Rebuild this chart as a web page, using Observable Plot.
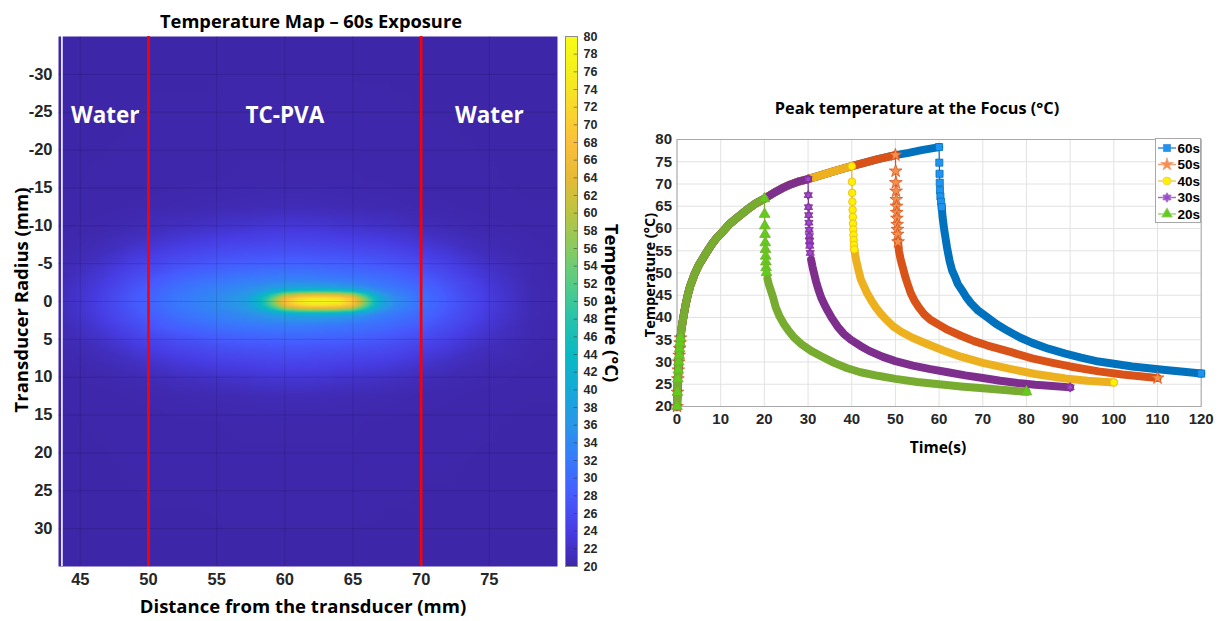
<!DOCTYPE html>
<html><head><meta charset="utf-8">
<script src="https://cdn.jsdelivr.net/npm/d3@7"></script>
<script src="https://cdn.jsdelivr.net/npm/@observablehq/plot@0.6"></script>
<style>
body{margin:0;background:#fff;}
#wrap{position:relative;width:1224px;height:621px;overflow:hidden;}
.abs{position:absolute;}
.lbl{position:absolute;font-family:"Open Sans",sans-serif;font-weight:700;color:#000;white-space:nowrap;transform:translate(-50%,-50%);}
</style></head><body><div id="wrap"></div>
<script>
// ---------- LEFT PANEL DATA (temperature map, symmetric in radius) ----------
const fieldX = [43.4, 46, 49, 52, 55, 57, 58, 59, 60, 61, 62, 63, 64, 65, 66, 67, 68, 70, 72, 75, 78, 80];
const fieldR = [0, 0.5, 1, 1.5, 2, 3, 4.5, 6, 8, 10, 12.5, 16, 36];
const fieldT = [
  [21.0,23.6,27.7,31.5,34.2,37.1,42.2,53.3,68.5,75.0,77.8,77.9,76.1,70.2,54.0,40.2,34.9,30.8,27.7,23.6,20.8,20.3],
  [21.0,23.6,27.7,31.5,34.2,36.8,41.5,51.5,65.1,71.0,73.6,73.6,71.9,66.7,52.0,39.5,34.7,30.8,27.7,23.6,20.8,20.3],
  [21.0,23.5,27.5,31.2,33.8,36.2,39.3,46.0,55.1,59.0,60.7,60.7,59.6,55.7,45.7,37.1,33.6,30.4,27.5,23.5,20.8,20.3],
  [21.0,23.4,27.2,30.8,33.2,35.0,36.5,39.1,42.5,43.9,44.5,44.4,43.6,41.7,37.6,34.0,32.3,29.9,27.2,23.4,20.8,20.3],
  [20.9,23.2,26.9,30.3,32.6,34.0,34.8,36.0,37.0,37.4,37.5,37.0,36.4,35.4,33.8,32.3,31.3,29.4,26.9,23.2,20.8,20.3],
  [20.7,22.8,26.0,29.1,31.0,31.9,32.2,32.6,32.8,32.8,32.6,32.2,31.9,31.5,31.0,30.5,29.9,28.1,26.0,22.8,20.6,20.3],
  [20.6,22.1,24.7,26.9,28.6,29.2,29.4,29.6,29.8,29.8,29.6,29.4,29.2,29.0,28.6,28.1,27.5,26.3,24.7,22.1,20.6,20.3],
  [20.45,21.3,23.4,25.2,26.5,27.0,27.1,27.25,27.4,27.4,27.25,27.1,27.0,26.75,26.5,26.2,25.8,24.6,23.4,21.3,20.4,20.25],
  [20.3,20.7,21.8,23.2,24.2,24.55,24.75,24.9,25,25,24.9,24.75,24.55,24.35,24.15,24,23.6,22.75,21.8,20.7,20.3,20.2],
  [20.2,20.35,20.75,21.5,22.15,22.5,22.75,22.9,23,23,22.9,22.75,22.5,22.35,22.15,22.0,21.75,21.2,20.75,20.35,20.2,20.1],
  [20.1,20.15,20.3,20.5,20.7,20.8,20.9,20.97,21,21,20.97,20.9,20.8,20.75,20.7,20.6,20.55,20.4,20.3,20.15,20.1,20.1],
  [20.05,20.1,20.15,20.2,20.25,20.3,20.3,20.3,20.3,20.3,20.3,20.3,20.3,20.3,20.25,20.25,20.2,20.15,20.15,20.1,20.05,20.05],
  [20,20,20,20,20,20,20,20,20,20,20,20,20,20,20,20,20,20,20,20,20,20]
];
const regionNames = ["Water", "TC-PVA", "Water"];
const regionBounds = [43.65, 50, 70, 80];
const interfaces = [50, 70];
const transducerFace = [43.65];
const xTicksL = [45, 50, 55, 60, 65, 70, 75];
const yTicksL = [-30, -25, -20, -15, -10, -5, 0, 5, 10, 15, 20, 25, 30];
const cbTicks = d3.range(20, 81, 2);
const parulaColors = ["#3e26a8","#473de4","#465bfe","#387afc","#2a96e7","#14aad7","#09b9c3","#27c3ab","#55cc86","#89cb61","#bbc441","#e6bb36","#fbbf3b","#f8d92c","#f4f01b","#f9fb15"];

// ---------- RIGHT PANEL DATA (peak temperature at focus) ----------
const heating = [[0,20],[0.1,23.2],[0.2,26.2],[0.3,28.2],[0.4,30],[0.5,31.5],[0.6,33],[0.7,34.3],[0.8,35.4],[1,37.3],[1.5,40.3],[2,43],[2.5,45.2],[3,47],[4,49.7],[5,51.8],[6,53.4],[7,55],[8,56.5],[9,57.8],[10,58.8],[12,61],[14,62.6],[16,64.2],[18,65.6],[20,66.7],[22,67.9],[24,69],[26,69.9],[28,70.6],[30,71.1],[33,72],[36,72.9],[40,74.0],[43,74.8],[46,75.6],[50,76.5],[53,77.0],[56,77.6],[60,78.3]];
const cool20 = [[0,66.7],[0.05,63.2],[0.1,60.6],[0.15,58.7],[0.2,56.8],[0.25,55.3],[0.3,53.8],[0.35,52.5],[0.4,51.2],[0.5,50.1],[0.7,48.7],[1,47.5],[1.5,46],[2,44.5],[2.6,42.3],[3.5,40.2],[4.5,38.5],[5.5,37.1],[6.8,35.5],[8.5,34],[10.7,32.5],[13,31.3],[16,29.8],[19,28.6],[22,27.7],[26,26.9],[30,26.2],[35,25.5],[40,25],[45,24.5],[50,24.1],[55,23.7],[60,23.3]];
const cool30 = [[0,71.1],[0.05,67.5],[0.1,64.8],[0.15,63],[0.2,61.3],[0.25,59.7],[0.3,58.3],[0.35,57.2],[0.4,56.1],[0.5,54.5],[0.7,53],[1,51.5],[1.4,49.8],[1.8,48.2],[2.4,46.2],[3,44.5],[3.7,43],[4.5,41.5],[5.5,39.8],[6.8,37.9],[8.2,36.3],[9.8,35],[12,33.6],[14,32.5],[17,31.2],[20,30.2],[24,29.2],[28,28.4],[32,27.7],[36,27],[40,26.4],[44,25.8],[48,25.3],[52,24.9],[56,24.6],[60,24.3]];
const cool40 = [[0,74],[0.05,70.5],[0.1,68],[0.15,66],[0.2,64.2],[0.25,62.6],[0.3,61.1],[0.35,59.8],[0.4,58.5],[0.45,57.4],[0.5,56.3],[0.6,55.3],[0.8,54],[1.1,52.5],[1.5,50.8],[2.1,48.5],[2.8,47],[3.5,45.5],[4.5,43.8],[5.5,42.3],[6.7,40.8],[8,39.4],[9.5,38],[11.3,36.8],[14,35.4],[17.4,34],[21,32.6],[25,31.2],[30,29.8],[36.5,28.4],[42,27.3],[48.9,26.3],[54,25.8],[60,25.4]];
const cool50 = [[0,76.5],[0.05,72.9],[0.1,70.3],[0.15,68.4],[0.2,66.5],[0.25,65],[0.3,63.6],[0.35,62.3],[0.4,60.9],[0.45,59.8],[0.5,58.7],[0.6,57],[0.8,55],[1.2,53],[1.7,51.2],[2.2,49.3],[2.8,47.5],[3.5,45.5],[4.4,43.7],[5.5,42.1],[6.6,40.7],[8,39.5],[9.7,38.5],[12,37.2],[15,35.9],[18,34.7],[21.1,33.7],[26.5,32.2],[31.3,30.8],[36,29.8],[40,29],[46.5,27.9],[52,27.2],[56,26.8],[60,26.4]];
const cool60 = [[0,78.3],[0.05,74.8],[0.1,72.3],[0.15,70.3],[0.2,68.6],[0.3,67.2],[0.45,66],[0.6,64.8],[0.8,62.5],[1,61],[1.2,59.5],[1.8,55.8],[2.4,52.7],[3,50.5],[3.7,49],[4.3,47.5],[5.2,46.2],[6.2,44.6],[7.3,43.2],[9,41.5],[11.1,40],[13,38.6],[15.7,37],[18.5,35.5],[21.3,34.3],[25,33],[28.9,31.9],[32.5,31],[36.5,30.1],[40,29.6],[44.2,29],[48,28.6],[51.8,28.2],[56,27.8],[60,27.4]];
const seriesNames = ["60s", "50s", "40s", "30s", "20s"];
const exposures = [60, 50, 40, 30, 20];
const coolings = [cool60, cool50, cool40, cool30, cool20];
const tTicks = d3.range(0, 121, 10);
const TTicks = d3.range(20, 81, 5);

// ---------- styles ----------
const lineColors = ["#0072bd", "#d95319", "#edb120", "#7e2f8e", "#77ac30"];
const faceColors = ["#1f93f0", "#f3904f", "#fff200", "#a046d4", "#62cc1c"];
const legendLine = ["#3d8fdc", "#f0a07c", "#f3c96c", "#a46ec4", "#a6d284"];
const hexagram = {
  draw(ctx, size) {
    const r = Math.sqrt(size / 2.2);
    for (let k = 0; k < 2; k++) {
      for (let j = 0; j < 3; j++) {
        const a = (k * 60 + j * 120 - 90) * Math.PI / 180;
        const px = r * Math.cos(a), py = r * Math.sin(a);
        j === 0 ? ctx.moveTo(px, py) : ctx.lineTo(px, py);
      }
      ctx.closePath();
    }
  }
};
const symbols = [d3.symbolSquare, d3.symbolStar, d3.symbolCircle, hexagram, d3.symbolTriangle];

const parula = d3.piecewise(d3.interpolateRgb, parulaColors);
const wrap = d3.select("#wrap");
const tickFont = "Liberation Sans, Arial, sans-serif";

// ---------- LEFT: temperature map ----------
const fieldPts = [];
fieldR.forEach((r, i) => fieldX.forEach((x, j) => {
  fieldPts.push({x, y: r, t: fieldT[i][j]});
  if (r > 0) fieldPts.push({x, y: -r, t: fieldT[i][j]});
}));

const left = Plot.plot({
  width: 620, height: 621,
  marginLeft: 58, marginRight: 63, marginTop: 36, marginBottom: 55,
  style: {fontFamily: tickFont, fontSize: "16.5px", fontWeight: "bold", color: "#262626", background: "transparent", overflow: "visible"},
  x: {domain: [43.4, 80], label: null},
  y: {domain: [-35, 35], reverse: true, label: null},
  color: {type: "linear", domain: [20, 80], interpolate: parula, clamp: true},
  marks: [
    Plot.raster(fieldPts, {x: "x", y: "y", fill: "t", interpolate: "barycentric", x1: 43.4, x2: 80, y1: -35, y2: 35}),
    Plot.gridX({ticks: xTicksL, stroke: "#000", strokeOpacity: 0.13}),
    Plot.gridY({ticks: yTicksL, stroke: "#000", strokeOpacity: 0.13}),
    Plot.ruleX(transducerFace, {stroke: "#ffffff", strokeWidth: 1.6}),
    Plot.ruleX(interfaces, {stroke: "#ff0000", strokeWidth: 2.6}),
    Plot.text(regionNames, {
      x: (d, i) => (regionBounds[i] + regionBounds[i + 1]) / 2,
      y: () => -24.5, text: d => d, fill: "#ffffff",
      fontSize: 22.5, fontWeight: 700, fontFamily: "Open Sans"
    }),
    Plot.axisX({ticks: xTicksL, tickSize: 0, tickPadding: 7, label: null}),
    Plot.axisY({ticks: yTicksL, tickSize: 0, tickPadding: 6, tickFormat: d => String(d), label: null})
  ]
});
d3.select(left).attr("class", "abs").style("left", "0px").style("top", "0px");
wrap.node().appendChild(left);

// colorbar
const cb = Plot.plot({
  width: 100, height: 621,
  marginLeft: 10, marginRight: 78, marginTop: 36, marginBottom: 55,
  style: {fontFamily: tickFont, fontSize: "12.5px", fontWeight: "bold", color: "#262626", background: "transparent", overflow: "visible"},
  x: {domain: [0, 1], axis: null},
  y: {domain: [20, 80], label: null},
  color: {type: "linear", domain: [20, 80], interpolate: parula},
  marks: [
    Plot.rect(d3.range(20, 80, 0.25), {x1: 0, x2: 1, y1: d => d, y2: d => Math.min(80, d + 0.5), fill: d => d + 0.125, shapeRendering: "crispEdges"}),
    Plot.ruleY(cbTicks.slice(1, -1), {x1: 0.72, x2: 1, stroke: "#333", strokeOpacity: 0.5}),
    Plot.frame({stroke: "#8c8c8c"}),
    Plot.axisY({ticks: cbTicks, anchor: "right", tickSize: 0, tickPadding: 6, label: null})
  ]
});
d3.select(cb).attr("class", "abs").style("left", "555px").style("top", "0px");
wrap.node().appendChild(cb);

// ---------- RIGHT: peak temperature ----------
const seriesData = exposures.map((stop, k) => {
  const pts = heating.filter(([t]) => t <= stop).map(([t, T]) => ({t, T, mark: t <= 0.8 || t === stop}));
  const cool = coolings[k];
  cool.slice(1).forEach(([d, T], i) => pts.push({t: stop + d, T, mark: d <= 0.6 || i === cool.length - 2}));
  return pts;
});

const rightMarks = [
  Plot.gridX({ticks: tTicks, stroke: "#e2e2e2", strokeOpacity: 1}),
  Plot.gridY({ticks: TTicks, stroke: "#e2e2e2", strokeOpacity: 1}),
  Plot.frame({stroke: "#a8a8a8"})
];
seriesData.forEach((pts, k) => {
  const stop = exposures[k];
  rightMarks.push(Plot.line(pts.filter(d => d.t <= stop), {x: "t", y: "T", stroke: lineColors[k], strokeWidth: 8, strokeLinejoin: "round"}));
  rightMarks.push(Plot.line(pts.filter(d => d.t >= stop + 0.6), {x: "t", y: "T", stroke: lineColors[k], strokeWidth: 8, strokeLinejoin: "round"}));
  rightMarks.push(Plot.line(pts.filter(d => d.t >= stop && d.t <= stop + 0.8), {x: "t", y: "T", stroke: lineColors[k], strokeWidth: 1.2}));
  rightMarks.push(Plot.dot(pts.filter(d => d.mark), {x: "t", y: "T", symbol: symbols[k], r: k === 2 ? 3.8 : 4, fill: faceColors[k], stroke: lineColors[k], strokeWidth: 0.8}));
});
rightMarks.push(Plot.axisX({ticks: tTicks, tickSize: 0, tickPadding: 7, label: null}));
rightMarks.push(Plot.axisY({ticks: TTicks, tickSize: 0, tickPadding: 5, label: null}));

const right = Plot.plot({
  width: 604, height: 621,
  marginLeft: 56.5, marginRight: 23.3, marginTop: 139, marginBottom: 215,
  style: {fontFamily: tickFont, fontSize: "15px", fontWeight: "bold", color: "#262626", background: "transparent", overflow: "visible"},
  x: {domain: [0, 120], label: null},
  y: {domain: [20, 80], label: null},
  symbol: {type: "identity"},
  marks: rightMarks
});
d3.select(right).attr("class", "abs").style("left", "620px").style("top", "0px");
wrap.node().appendChild(right);

// legend
const lg = wrap.append("svg").attr("class", "abs").style("left", "1155px").style("top", "138px").attr("width", 47).attr("height", 86);
lg.append("rect").attr("x", 0.5).attr("y", 0.5).attr("width", 45).attr("height", 84).attr("fill", "#fff").attr("stroke", "#a8a8a8");
seriesNames.forEach((name, i) => {
  const y = 10 + i * 16.5;
  lg.append("line").attr("x1", 3).attr("x2", 21).attr("y1", y).attr("y2", y).attr("stroke", legendLine[i]).attr("stroke-width", 1.5);
  lg.append("path").attr("transform", `translate(12,${y})`).attr("d", d3.symbol(symbols[i], 50)()).attr("fill", faceColors[i]).attr("stroke", legendLine[i]).attr("stroke-width", 0.8);
  lg.append("text").attr("x", 22.5).attr("y", y).attr("dy", "0.36em").attr("font-family", tickFont).attr("font-weight", "bold").attr("font-size", 13.5).attr("fill", "#000").text(name);
});

// text labels
function label(txt, x, y, size, rot) {
  wrap.append("div").attr("class", "lbl").style("left", x + "px").style("top", y + "px").style("font-size", size + "px")
    .style("transform", `translate(-50%,-50%) rotate(${rot || 0}deg)`).text(txt);
}
label("Temperature Map – 60s Exposure", 311, 20, 18.3);
label("Transducer Radius (mm)", 20, 300, 18.5, -90);
label("Distance from the transducer (mm)", 303, 605, 18.5);
label("Temperature (°C)", 612, 303, 18.5, 90);
label("Peak temperature at the Focus (°C)", 917, 108, 16.3);
label("Temperature (°C)", 649, 275, 14.5, -90);
label("Time(s)", 938, 447, 15.5);
</script></body></html>
